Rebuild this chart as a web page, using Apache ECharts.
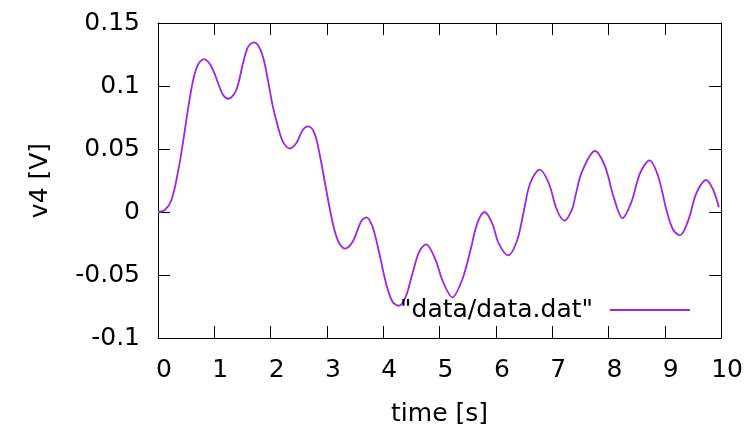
<!DOCTYPE html>
<html>
<head>
<meta charset="utf-8">
<script src="https://cdn.jsdelivr.net/npm/echarts@6/dist/echarts.min.js"></script>
<style>
html,body{margin:0;padding:0;background:#fff;}
#chart{width:746px;height:432px;}
</style>
</head>
<body>
<div id="chart"></div>
<script>
// Data
const timeS = [0, 0.12, 0.24, 0.36, 0.45, 0.54, 0.625, 0.71, 0.82, 0.95, 1.07, 1.156, 1.255, 1.39, 1.51, 1.60, 1.705, 1.775, 1.864, 1.952, 2.04, 2.13, 2.218, 2.336, 2.455, 2.57, 2.673, 2.78, 2.867, 2.956, 3.044, 3.133, 3.22, 3.32, 3.457, 3.605, 3.70, 3.81, 3.93, 4.05, 4.165, 4.28, 4.40, 4.52, 4.64, 4.76, 4.93, 5.05, 5.227, 5.40, 5.55, 5.67, 5.80, 5.935, 6.05, 6.218, 6.38, 6.50, 6.61, 6.78, 6.94, 7.085, 7.22, 7.35, 7.41, 7.53, 7.76, 7.94, 8.09, 8.25, 8.41, 8.56, 8.73, 8.885, 9.03, 9.15, 9.27, 9.42, 9.56, 9.735, 9.86, 9.96];
const v4 = [0, 0.0016, 0.0095, 0.033, 0.057, 0.0836, 0.1048, 0.117, 0.1214, 0.1153, 0.102, 0.0929, 0.0899, 0.0968, 0.118, 0.131, 0.1347, 0.1325, 0.1233, 0.1048, 0.0836, 0.0677, 0.0558, 0.0504, 0.0545, 0.0651, 0.068, 0.0624, 0.0466, 0.0254, 0.0042, -0.0143, -0.0248, -0.029, -0.0236, -0.0077, -0.0042, -0.0117, -0.0328, -0.0566, -0.0712, -0.0744, -0.0672, -0.0487, -0.0315, -0.0257, -0.0381, -0.054, -0.0677, -0.054, -0.0302, -0.009, 0.0, -0.009, -0.0249, -0.0344, -0.0222, 0.0016, 0.0228, 0.0336, 0.0228, 0.0016, -0.0069, 0.0016, 0.0122, 0.032, 0.0484, 0.036, 0.0122, -0.0048, 0.0082, 0.0307, 0.041, 0.028, 0.0016, -0.0143, -0.0185, -0.0063, 0.0148, 0.0254, 0.0175, 0.0037];
const xTicks = {min: 0, max: 10, step: 1};
const yTicks = {min: -0.1, max: 0.15, step: 0.05};
const seriesName = '"data/data.dat"';
const xName = 'time [s]';
const yName = 'v4 [V]';

const FONT = 'DejaVu Sans';
const FS = 25;
const lineCol = '#000';
const curveCol = '#9b27e0';

const points = timeS.map((t, i) => [t, v4[i]]);

function fmtY(v) {
  const r = Math.round(v * 100) / 100;
  return String(r);
}

const frameAxis = {
  axisLine: {show: true, onZero: false, lineStyle: {color: lineCol, width: 1}},
  axisTick: {show: true, inside: true, length: 12, lineStyle: {color: lineCol, width: 1}},
  splitLine: {show: false}
};

const chart = echarts.init(document.getElementById('chart'), null, {renderer: 'canvas'});
chart.setOption({
  animation: false,
  backgroundColor: '#fff',
  grid: {left: 158, right: 23, top: 23, bottom: 94, containLabel: false},
  legend: {
    right: 51, top: 290,
    align: 'right',
    icon: 'rect',
    itemWidth: 80, itemHeight: 1.8,
    textStyle: {fontFamily: FONT, fontSize: FS, color: '#000', lineHeight: 30, padding: [0, 12, 0, 0]},
    data: [seriesName]
  },
  xAxis: [Object.assign({
    type: 'value', min: xTicks.min, max: xTicks.max, interval: xTicks.step,
    position: 'bottom',
    name: xName, nameLocation: 'middle', nameGap: 64,
    nameTextStyle: {fontFamily: FONT, fontSize: FS, color: '#000'},
    axisLabel: {fontFamily: FONT, fontSize: FS, color: '#000', margin: 20, padding: [0, 0, 0, 12]}
  }, frameAxis), Object.assign({
    type: 'value', min: xTicks.min, max: xTicks.max, interval: xTicks.step,
    position: 'top',
    axisLabel: {show: false}
  }, frameAxis)],
  yAxis: [Object.assign({
    type: 'value', min: yTicks.min, max: yTicks.max, interval: yTicks.step,
    position: 'left',
    name: yName, nameLocation: 'middle', nameGap: 105,
    nameTextStyle: {fontFamily: FONT, fontSize: FS, color: '#000'},
    axisLabel: {fontFamily: FONT, fontSize: FS, color: '#000', margin: 18, formatter: fmtY, padding: [0, 0, 4, 0]}
  }, frameAxis), Object.assign({
    type: 'value', min: yTicks.min, max: yTicks.max, interval: yTicks.step,
    position: 'right',
    axisLabel: {show: false}
  }, frameAxis)],
  series: [{
    name: seriesName,
    type: 'line',
    xAxisIndex: 0, yAxisIndex: 0,
    data: points,
    smooth: 0.33,
    showSymbol: false,
    lineStyle: {color: curveCol, width: 1.8},
    itemStyle: {color: curveCol}
  }]
});
</script>
</body>
</html>
